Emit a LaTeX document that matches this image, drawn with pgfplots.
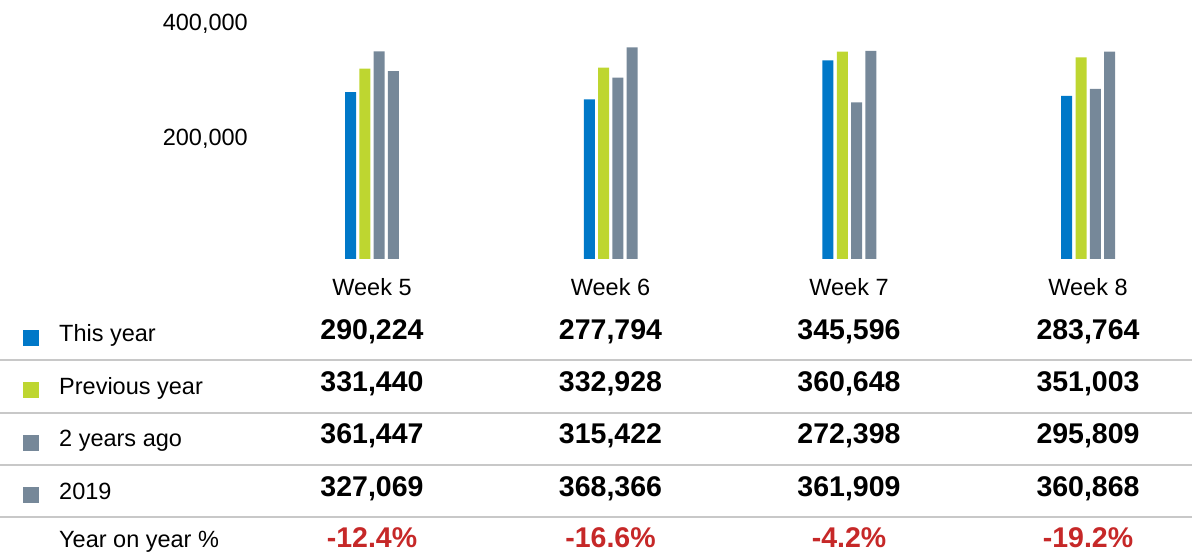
\documentclass[border=0pt]{standalone}
\usepackage{fontspec}
\setmainfont{Liberation Sans}
\usepackage{pgfplots}
\pgfplotsset{compat=1.18}
\definecolor{cBlue}{RGB}{0,120,200}
\definecolor{cGreen}{RGB}{190,214,48}
\definecolor{cGrey}{RGB}{118,136,153}
\definecolor{cRed}{RGB}{198,40,40}
\definecolor{cLine}{RGB}{200,200,200}
\newcommand{\regf}{\fontsize{23.5}{28}\selectfont}
\newcommand{\numf}{\fontsize{28.5}{32}\selectfont\bfseries}
\begin{document}
\begin{tikzpicture}[x=1pt,y=1pt]
\path[use as bounding box] (0,0) rectangle (1192,556);
\begin{axis}[at={(250pt,297pt)}, anchor=south west, scale only axis,
  width=942pt, height=259pt,
  xmin=-0.511, xmax=3.435, ymin=0, ymax=450660,
  ybar=3.3pt, bar width=11pt,
  axis line style={draw=none}, major tick length=0pt,
  xtick=\empty, ytick={200000,400000},
  scaled y ticks=false,
  yticklabel style={/pgf/number format/fixed, /pgf/number format/1000 sep={,},
    /pgf/number format/assume math mode=true,
    font=\regf, anchor=east, inner sep=0pt, xshift=-2pt, yshift=5pt},
  clip=false]
\addplot[fill=cBlue, draw=none] coordinates {(0,290224) (1,277794) (2,345596) (3,283764)};
\addplot[fill=cGreen, draw=none] coordinates {(0,331440) (1,332928) (2,360648) (3,351003)};
\addplot[fill=cGrey, draw=none] coordinates {(0,361447) (1,315422) (2,272398) (3,295809)};
\addplot[fill=cGrey, draw=none] coordinates {(0,327069) (1,368366) (2,361909) (3,360868)};
\end{axis}
% separator lines
\foreach \yy in {196,143,91,39} \draw[cLine, line width=1.5pt] (0,\yy) -- (1192,\yy);
% week labels
\foreach \xx/\t in {372/Week 5, 610.5/Week 6, 849/Week 7, 1088/Week 8}
  \node[anchor=base, inner sep=0pt, font=\regf] at (\xx,260) {\t};
% legend squares
\fill[cBlue] (22.5,210) rectangle (38.5,226);
\fill[cGreen] (22.5,158) rectangle (38.5,174);
\fill[cGrey] (22.5,105) rectangle (38.5,121);
\fill[cGrey] (22.5,53) rectangle (38.5,69);
% row labels
\node[anchor=base west, inner sep=0pt, font=\regf] at (59,214) {This year};
\node[anchor=base west, inner sep=0pt, font=\regf] at (59,161) {Previous year};
\node[anchor=base west, inner sep=0pt, font=\regf] at (59,109) {2 years ago};
\node[anchor=base west, inner sep=0pt, font=\regf] at (59,56) {2019};
\node[anchor=base west, inner sep=0pt, font=\regf] at (59,8) {Year on year \%};
% values
\foreach \xx/\a/\b/\c/\d/\e in {372/{290,224}/{331,440}/{361,447}/{327,069}/{-12.4\%},
  610.5/{277,794}/{332,928}/{315,422}/{368,366}/{-16.6\%},
  849/{345,596}/{360,648}/{272,398}/{361,909}/{-4.2\%},
  1088/{283,764}/{351,003}/{295,809}/{360,868}/{-19.2\%}}{
  \node[anchor=base, inner sep=0pt, font=\numf] at (\xx,216) {\a};
  \node[anchor=base, inner sep=0pt, font=\numf] at (\xx,164) {\b};
  \node[anchor=base, inner sep=0pt, font=\numf] at (\xx,112) {\c};
  \node[anchor=base, inner sep=0pt, font=\numf] at (\xx,59) {\d};
  \node[anchor=base, inner sep=0pt, font=\numf, text=cRed] at (\xx,8) {\e};
}
\end{tikzpicture}
\end{document}
